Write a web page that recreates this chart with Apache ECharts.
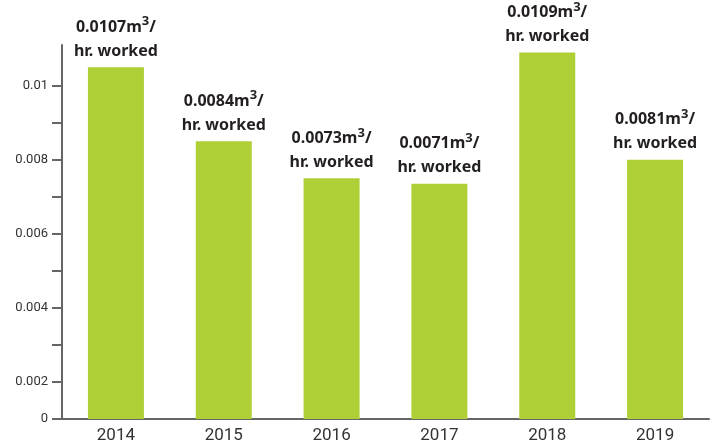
<!DOCTYPE html>
<html>
<head>
<meta charset="utf-8">
<script src="https://cdn.jsdelivr.net/npm/echarts@6/dist/echarts.min.js"></script>
<style>
  html, body { margin: 0; padding: 0; background: #fff; }
  #chart { width: 711px; height: 447px; }
</style>
</head>
<body>
<div id="chart"></div>
<script>
// years on the x axis
const years = ['2014', '2015', '2016', '2017', '2018', '2019'];
const barValues = [0.0105, 0.0085, 0.0075, 0.00735, 0.0109, 0.0080];
// printed value labels above each bar
const valueLabels = ['0.0107', '0.0084', '0.0073', '0.0071', '0.0109', '0.0081'];
// y axis: the bottom tick is printed "0" but sits one step below 0.002
const yTickValues = [0.001, 0.002, 0.003, 0.004, 0.005, 0.006, 0.007, 0.008, 0.009, 0.010];
const yLabelValues = [0.001, 0.002, 0.004, 0.006, 0.008, 0.010];
const yLabelTexts = ['0', '0.002', '0.004', '0.006', '0.008', '0.01'];

const chart = echarts.init(document.getElementById('chart'));

const option = {
    animation: false,
    grid: { left: 62, right: 2, top: 45, bottom: 28 },
    xAxis: {
        type: 'category',
        data: years,
        axisLine: { lineStyle: { color: '#666', width: 2 } },
        axisTick: { show: false },
        axisLabel: {
            color: '#333',
            fontSize: 17,
            fontFamily: 'Liberation Sans Narrow, Roboto, sans-serif',
            margin: 8
        }
    },
    yAxis: {
        type: 'value',
        min: 0.001,
        max: 0.0111,
        interval: 0.001,
        splitLine: { show: false },
        axisLine: { show: true, lineStyle: { color: '#666', width: 2 } },
        axisTick: {
            show: true,
            length: 10,
            lineStyle: { color: '#666', width: 2 },
            customValues: yTickValues
        },
        axisLabel: {
            color: '#333',
            fontSize: 13,
            fontFamily: 'Liberation Sans Narrow, Roboto, sans-serif',
            margin: 14,
            customValues: yLabelValues,
            formatter: function (v) {
                for (let i = 0; i < yLabelValues.length; i++) {
                    if (Math.abs(yLabelValues[i] - v) < 1e-7) return yLabelTexts[i];
                }
                return '';
            }
        }
    },
    series: [{
        type: 'bar',
        data: barValues,
        barWidth: 56,
        itemStyle: { color: '#afcf36' },
        label: {
            show: true,
            position: 'top',
            distance: 4,
            formatter: function (p) {
                return '{v|' + valueLabels[p.dataIndex] + 'm}{s|3}{v|/}\n{v|hr. worked}';
            },
            rich: {
                v: {
                    fontSize: 16,
                    fontWeight: 'bold',
                    color: '#231f20',
                    fontFamily: 'Noto Sans, sans-serif',
                    lineHeight: 24
                },
                s: {
                    fontSize: 13,
                    fontWeight: 'bold',
                    color: '#231f20',
                    fontFamily: 'Noto Sans, sans-serif',
                    lineHeight: 24,
                    verticalAlign: 'top',
                    padding: [0, 0, 6, 0]
                }
            }
        }
    }]
};

chart.setOption(option);
</script>
</body>
</html>
